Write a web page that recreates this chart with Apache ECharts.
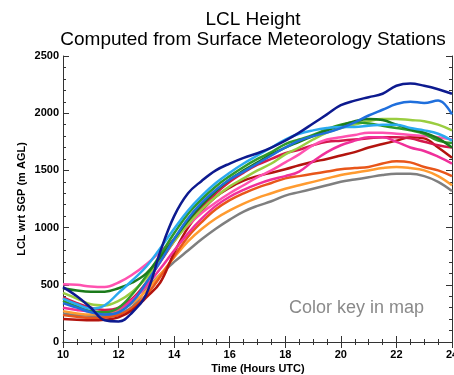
<!DOCTYPE html>
<html><head><meta charset="utf-8">
<script src="https://cdn.jsdelivr.net/npm/echarts@6/dist/echarts.min.js"></script>
<style>html,body{margin:0;padding:0;background:#fff;overflow:hidden}#c{width:454px;height:375px}</style>
</head><body><div id="c"></div>
<script>
const titleLines = ['LCL Height', 'Computed from Surface Meteorology Stations'];
const xName = 'Time (Hours UTC)';
const yName = 'LCL wrt SGP (m AGL)';
const noteText = 'Color key in map';
const hours = [10,10.5,11,11.5,12,12.5,13,13.5,14,14.5,15,15.5,16,16.5,17,17.5,18,18.5,19,19.5,20,20.5,21,21.5,22,22.5,23,23.5,24];

const gray      = [250,235,230,230,245,310,460,590,700,800,900,990,1070,1140,1190,1230,1280,1310,1340,1370,1400,1420,1440,1460,1470,1470,1450,1400,1320];
const orange    = [270,250,240,250,275,340,450,590,740,880,990,1080,1150,1210,1260,1300,1340,1370,1400,1430,1460,1480,1500,1520,1530,1520,1500,1450,1370];
const redOrange = [235,220,210,215,235,300,410,570,750,920,1050,1160,1240,1300,1350,1390,1430,1450,1470,1490,1510,1520,1530,1560,1580,1570,1530,1500,1450];
const darkRed   = [200,195,190,195,215,280,390,520,780,1000,1150,1270,1350,1410,1450,1480,1510,1545,1575,1600,1630,1660,1700,1730,1760,1790,1780,1700,1610];
const crimson   = [390,340,300,280,300,380,520,700,880,1040,1180,1300,1400,1480,1550,1600,1650,1680,1720,1750,1760,1770,1780,1790,1790,1780,1750,1720,1700];
const deepPink  = [300,280,265,260,290,370,490,640,800,950,1080,1190,1270,1330,1380,1420,1450,1490,1580,1660,1720,1760,1790,1790,1750,1700,1670,1620,1560];
const hotPink   = [505,500,485,480,520,590,680,790,900,1020,1130,1220,1300,1370,1440,1500,1570,1640,1720,1770,1790,1810,1830,1830,1820,1810,1800,1790,1770];
const yellowGrn = [430,380,330,320,360,440,560,720,880,1030,1160,1270,1360,1430,1500,1560,1640,1700,1770,1830,1870,1900,1930,1950,1950,1940,1930,1900,1850];
const green     = [360,310,270,260,300,420,580,760,950,1120,1250,1360,1450,1530,1600,1660,1730,1770,1810,1860,1900,1920,1910,1890,1870,1850,1820,1760,1740];
const darkGreen = [470,450,440,440,470,520,600,740,900,1060,1200,1320,1420,1500,1570,1640,1700,1750,1800,1850,1890,1930,1950,1940,1900,1860,1830,1780,1700];
const skyBlue   = [380,330,290,320,430,540,660,820,990,1150,1280,1390,1480,1560,1630,1700,1770,1820,1850,1870,1880,1880,1890,1900,1900,1870,1850,1820,1760];
const blue      = [340,300,260,240,260,350,520,700,900,1080,1220,1330,1420,1490,1560,1630,1700,1760,1800,1830,1870,1920,1980,2030,2080,2100,2090,2110,1990];
const navy      = [480,400,300,190,180,260,420,790,1100,1300,1410,1500,1560,1610,1650,1700,1760,1830,1910,1990,2070,2110,2140,2170,2240,2260,2240,2210,2170];

const seriesDefs = [
  {name:'gray', color:'#7f7f7f', values:gray},
  {name:'orange', color:'#ff9b30', values:orange},
  {name:'redOrange', color:'#e8561a', values:redOrange},
  {name:'darkRed', color:'#b3140e', values:darkRed},
  {name:'crimson', color:'#d4184c', values:crimson},
  {name:'deepPink', color:'#f0309a', values:deepPink},
  {name:'hotPink', color:'#ff52b0', values:hotPink},
  {name:'yellowGrn', color:'#9acd40', values:yellowGrn},
  {name:'green', color:'#2f9a2a', values:green},
  {name:'darkGreen', color:'#1b7a1b', values:darkGreen},
  {name:'skyBlue', color:'#2aaaf0', values:skyBlue},
  {name:'blue', color:'#1f6fdc', values:blue},
  {name:'navy', color:'#0d1a8f', values:navy}
];

const FONT = '"Liberation Sans", Arial, Helvetica, sans-serif';
const chart = echarts.init(document.getElementById('c'), null, {renderer:'canvas', width:454, height:375});
const axisLine = {show:true, lineStyle:{color:'#333', width:1}};
const tick = {inside:true, length:6, lineStyle:{color:'#333'}};
const option = {
  animation:false,
  backgroundColor:'#fff',
  grid:{left:63, right:2, top:56, bottom:33, containLabel:false, outerBoundsMode:'none'},
  xAxis:[
    {type:'value', min:10, max:24, interval:2, position:'bottom',
     axisLine:axisLine, splitLine:{show:false}, axisTick:tick,
     minorTick:{show:true, splitNumber:4, length:3, lineStyle:{color:'#333'}},
     axisLabel:{color:'#000', fontFamily:FONT, fontWeight:'bold', fontSize:11, margin:7, formatter:v=>String(v)}},
    {type:'value', min:10, max:24, interval:2, position:'top',
     axisLine:axisLine, splitLine:{show:false}, axisTick:tick,
     minorTick:{show:true, splitNumber:4, length:3, lineStyle:{color:'#333'}},
     axisLabel:{show:false}}
  ],
  yAxis:[
    {type:'value', min:0, max:2500, interval:500, position:'left',
     axisLine:axisLine, splitLine:{show:false}, axisTick:tick,
     minorTick:{show:true, splitNumber:5, length:3, lineStyle:{color:'#333'}},
     axisLabel:{color:'#000', fontFamily:FONT, fontWeight:'bold', fontSize:11, margin:4, formatter:v=>String(v)}},
    {type:'value', min:0, max:2500, interval:500, position:'right',
     axisLine:axisLine, splitLine:{show:false}, axisTick:tick,
     minorTick:{show:true, splitNumber:5, length:3, lineStyle:{color:'#333'}},
     axisLabel:{show:false}}
  ],
  graphic:[
    {type:'text', x:253, y:20, style:{text:titleLines[0], fill:'#000', font:'19px ' + FONT, textAlign:'center', textVerticalAlign:'middle'}},
    {type:'text', x:253, y:40, style:{text:titleLines[1], fill:'#000', font:'19px ' + FONT, textAlign:'center', textVerticalAlign:'middle'}},
    {type:'text', x:258, y:369, style:{text:xName, fill:'#000', font:'bold 11px ' + FONT, textAlign:'center', textVerticalAlign:'middle'}},
    {type:'text', x:22, y:199, rotation:Math.PI/2, style:{text:yName, fill:'#000', font:'bold 11px ' + FONT, textAlign:'center', textVerticalAlign:'middle'}},
    {type:'text', x:289, y:308, style:{text:noteText, fill:'#8a8a8a', font:'18px ' + FONT, textAlign:'left', textVerticalAlign:'middle'}}
  ],
  series: seriesDefs.map(d => ({
    type:'line', name:d.name, xAxisIndex:0, yAxisIndex:0,
    data: hours.map((h,i) => [h, d.values[i]]),
    smooth:0.4, showSymbol:false, symbol:'none',
    lineStyle:{color:d.color, width:2.5}, itemStyle:{color:d.color}
  }))
};
chart.setOption(option);
</script></body></html>
